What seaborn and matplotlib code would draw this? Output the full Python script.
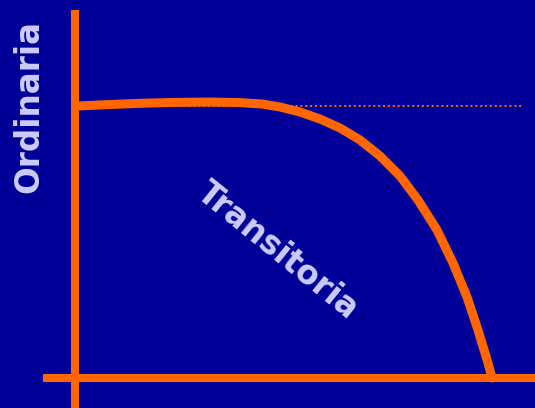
import pandas as pd
import seaborn as sns
import matplotlib.pyplot as plt

# Curve points (pixel space, y downward)
curve_x = [78, 110, 140, 175, 210, 240, 262, 280, 300, 320, 340, 360, 380,
           400, 418, 437, 453, 467, 478, 488, 492]
curve_y = [106, 104.5, 103.3, 102.4, 102, 102.6, 104, 107, 112, 119, 128, 140, 156,
           176, 200, 230, 263, 297, 330, 363, 378]

level_y = 106          # dotted reference level
level_x = [140, 521]

label_vertical = "Ordinaria"
label_diagonal = "Transitoria"

orange = "#FF6600"
navy = "#000099"
lilac = "#CCCCFF"

sns.set_style("white")
plt.rcParams['font.family'] = ['DejaVu Sans']

fig = plt.figure(figsize=(5.35, 4.08), dpi=100)
fig.patch.set_facecolor(navy)
ax = fig.add_axes([0, 0, 1, 1])
ax.set_facecolor(navy)
ax.set_xlim(0, 535)
ax.set_ylim(408, 0)
ax.axis("off")

# axes drawn as thick orange lines
ax.plot([74.5, 74.5], [10, 408], color=orange, lw=5.8, solid_capstyle="butt")
ax.plot([43, 535], [378, 378], color=orange, lw=5.8, solid_capstyle="butt")

# dotted level line
ax.plot(level_x, [level_y, level_y], color=orange, lw=1.4, ls=(0, (1, 1.5)))

# main curve
df = pd.DataFrame({"x": curve_x, "y": curve_y})
sns.lineplot(data=df, x="x", y="y", sort=False, color=orange, linewidth=6.5,
             solid_joinstyle="round", ax=ax)
ax.set_xlabel("")
ax.set_ylabel("")

ax.text(29, 106, label_vertical, rotation=90, ha="center", va="center",
        color=lilac, fontsize=23.5, fontweight="bold")
ax.text(278, 251, label_diagonal, rotation=-39, ha="center", va="center",
        color=lilac, fontsize=23.5, fontweight="bold", rotation_mode="anchor")

fig.savefig("out.png", dpi=100, facecolor=navy)
